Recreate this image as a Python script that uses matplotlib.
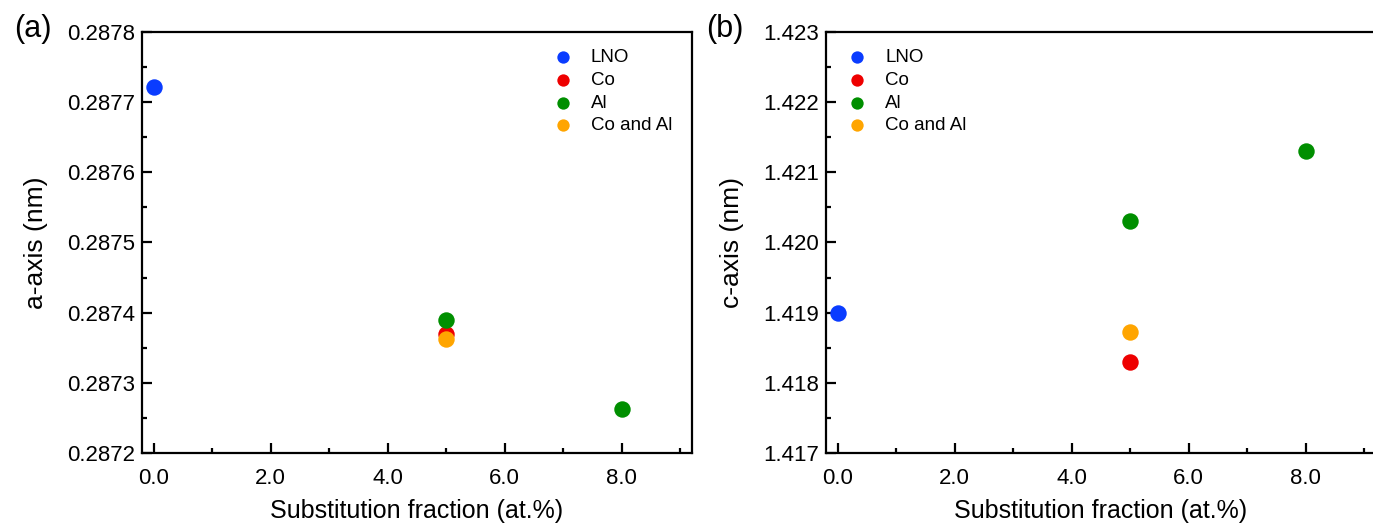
import matplotlib
matplotlib.use('Agg')
import matplotlib.pyplot as plt
from matplotlib.ticker import MultipleLocator, FormatStrFormatter

plt.rcParams['font.family'] = ['Liberation Sans', 'DejaVu Sans']

# data
series = ['LNO', 'Co', 'Al', 'Co and Al']
colors = ['#0a3cff', '#ee0000', '#008f00', '#ffa500']

x_lno, a_lno, c_lno = [0.0], [0.287722], [1.41900]
x_co, a_co, c_co = [5.0], [0.287370], [1.41830]
x_al, a_al, c_al = [5.0, 8.0], [0.287390, 0.287262], [1.42031, 1.42131]
x_coal, a_coal, c_coal = [5.0], [0.287362], [1.41873]

xs = [x_lno, x_co, x_al, x_coal]
a_vals = [a_lno, a_co, a_al, a_coal]
c_vals = [c_lno, c_co, c_al, c_coal]

W, H = 1373, 531
fig = plt.figure(figsize=(W / 100, H / 100), dpi=100)


def px_axes(left, top, right, bottom):
    return fig.add_axes([left / W, 1 - bottom / H, (right - left) / W, (bottom - top) / H])


def style(ax, ylabel, ylim, ymajor, fmt):
    ax.set_xlim(-0.2, 9.2)
    ax.set_ylim(*ylim)
    ax.xaxis.set_major_locator(MultipleLocator(2))
    ax.xaxis.set_minor_locator(MultipleLocator(1))
    ax.xaxis.set_major_formatter(FormatStrFormatter('%.1f'))
    ax.yaxis.set_major_locator(MultipleLocator(ymajor))
    ax.yaxis.set_minor_locator(MultipleLocator(ymajor / 2))
    ax.yaxis.set_major_formatter(FormatStrFormatter(fmt))
    ax.tick_params(which='both', direction='in', top=False, right=False,
                   width=1.6, labelsize=16, colors='black')
    ax.tick_params(which='major', length=7)
    ax.tick_params(axis='y', which='major', pad=5)
    ax.tick_params(axis='x', which='major', pad=11)
    ax.tick_params(which='minor', length=3.5)
    for s in ax.spines.values():
        s.set_linewidth(1.6)
    ax.set_xlabel('Substitution fraction (at.%)', fontsize=18, labelpad=7)
    ax.set_ylabel(ylabel, fontsize=19, labelpad=14)


ax1 = px_axes(142, 32, 692, 453)
ax2 = px_axes(826, 32, 1376, 453)

for name, col, x, a, c in zip(series, colors, xs, a_vals, c_vals):
    ax1.scatter(x, a, s=140, color=col, label=name, zorder=3, linewidths=0)
    ax2.scatter(x, c, s=140, color=col, label=name, zorder=3, linewidths=0)

style(ax1, 'a-axis (nm)', (0.2872, 0.2878), 0.0001, '%.4f')
style(ax2, 'c-axis (nm)', (1.417, 1.423), 0.001, '%.3f')

leg_kw = dict(frameon=False, fontsize=13.5, markerscale=0.75, handletextpad=0.5,
              labelspacing=0.3)
ax1.legend(loc='upper right', bbox_to_anchor=(0.995, 1.0), borderaxespad=0.5, **leg_kw)
ax2.legend(loc='upper left', bbox_to_anchor=(-0.008, 1.0), borderaxespad=0.5, **leg_kw)

fig.text(14 / W, 1 - 29 / H, '(a)', fontsize=22, va='center', ha='left')
fig.text(706 / W, 1 - 29 / H, '(b)', fontsize=22, va='center', ha='left')

fig.savefig('out.png', dpi=100)
